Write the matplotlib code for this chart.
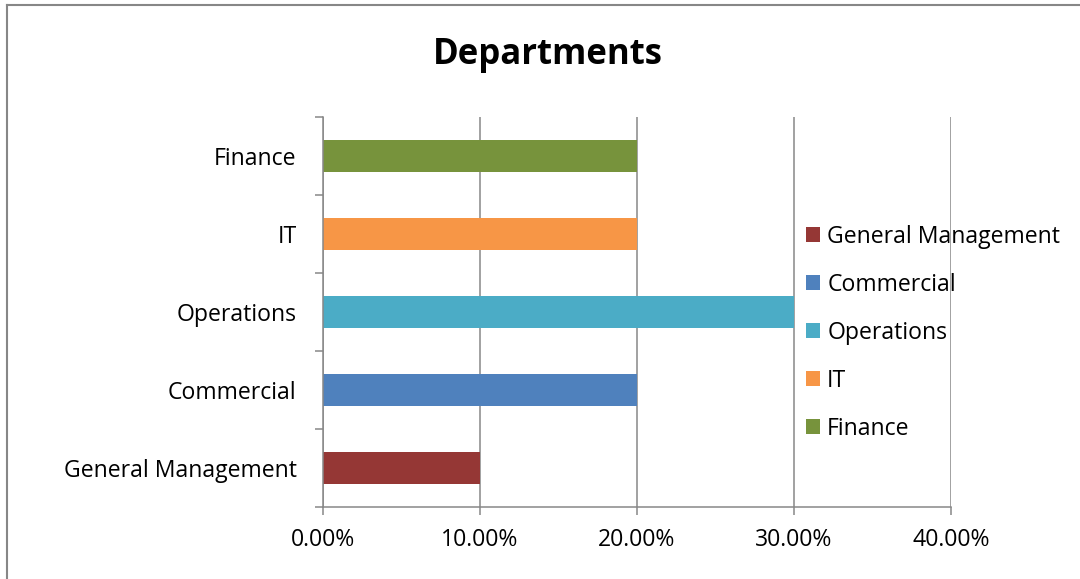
import matplotlib
matplotlib.use("Agg")
import matplotlib.pyplot as plt
from matplotlib.patches import Patch
from matplotlib.lines import Line2D
from matplotlib.ticker import FuncFormatter, MultipleLocator

categories = ["General Management", "Commercial", "Operations", "IT", "Finance"]
values = [0.10, 0.20, 0.30, 0.20, 0.20]
colors = ["#953735", "#4F81BD", "#4BACC6", "#F79646", "#77933C"]
title = "Departments"

plt.rcParams['font.family'] = ['Open Sans', 'DejaVu Sans']
GRAY = "#878787"

fig = plt.figure(figsize=(10.8, 5.79), dpi=100)
W, H = 1080, 579
ax = fig.add_axes([323 / W, 1 - 507 / H, (951 - 323) / W, (507 - 117) / H])

ypos = list(range(len(categories)))
ax.barh(ypos, values, height=0.41, color=colors, zorder=3)

ax.set_xlim(0, 0.40)
ax.set_ylim(-0.5, len(categories) - 0.5)
ax.xaxis.set_major_locator(MultipleLocator(0.10))
ax.xaxis.set_major_formatter(FuncFormatter(lambda v, p: f"{v*100:.2f}%"))
ax.set_yticks(ypos)
ax.set_yticklabels(categories)
ax.set_yticks([i - 0.5 for i in range(len(categories) + 1)], minor=True)

ax.grid(axis='x', color=GRAY, linewidth=1.1, zorder=0)
for s in ['top', 'right']:
    ax.spines[s].set_visible(False)
for s in ['left', 'bottom']:
    ax.spines[s].set_color(GRAY)
    ax.spines[s].set_linewidth(1.1)
    ax.spines[s].set_zorder(4)

FS = 16.6
ax.tick_params(axis='y', which='major', length=0, pad=19, labelsize=FS)
ax.tick_params(axis='y', which='minor', length=6, width=1.1, color=GRAY, direction='out')
ax.tick_params(axis='x', which='major', length=6, width=1.1, color=GRAY, pad=9, labelsize=FS)

fig.text(548 / W, 1 - 55 / H, title, ha='center', va='center', fontsize=25, fontweight='bold')

handles = [Patch(facecolor=c, edgecolor='none') for c in colors]
fig.legend(handles, categories, loc='upper left',
           bbox_to_anchor=(806 / W, 1 - 225 / H), frameon=False,
           fontsize=FS, handlelength=0.62, handleheight=0.62,
           handletextpad=0.3, labelspacing=1.04, borderpad=0, borderaxespad=0)

# chart frame (top and left edges visible)
fig.add_artist(Line2D([6.5 / W, 1.0], [1 - 5 / H, 1 - 5 / H], color=GRAY, linewidth=1.5, transform=fig.transFigure))
fig.add_artist(Line2D([6.5 / W, 6.5 / W], [0.0, 1 - 5 / H], color=GRAY, linewidth=1.5, transform=fig.transFigure))

fig.savefig("out.png", dpi=100)
